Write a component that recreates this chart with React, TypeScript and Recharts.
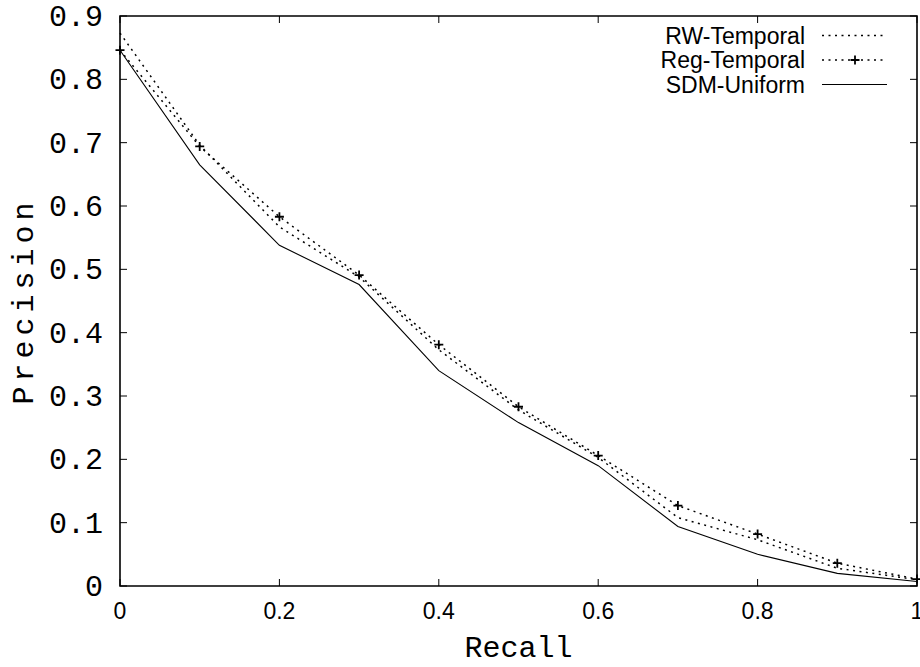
import { LineChart, Line, XAxis, YAxis, ReferenceArea, Legend } from "recharts";

const RECALL = [0, 0.1, 0.2, 0.3, 0.4, 0.5, 0.6, 0.7, 0.8, 0.9, 1.0];
const RW_TEMPORAL = [0.873, 0.696, 0.567, 0.488, 0.373, 0.278, 0.203, 0.108, 0.073, 0.028, 0.01];
const REG_TEMPORAL = [0.846, 0.694, 0.583, 0.491, 0.381, 0.283, 0.206, 0.127, 0.082, 0.036, 0.011];
const SDM_UNIFORM = [0.846, 0.665, 0.538, 0.476, 0.34, 0.258, 0.19, 0.094, 0.05, 0.02, 0.007];

const X_TICKS = [0, 0.2, 0.4, 0.6, 0.8, 1];
const Y_TICKS = [0, 0.1, 0.2, 0.3, 0.4, 0.5, 0.6, 0.7, 0.8, 0.9];

const data = RECALL.map((r, i) => ({
  recall: r,
  rw: RW_TEMPORAL[i],
  reg: REG_TEMPORAL[i],
  sdm: SDM_UNIFORM[i],
}));

// plot box (gnuplot style frame, ticks point inward on all four sides)
const W = 920;
const H = 667;
const PLOT = { left: 120, top: 16, right: 917, bottom: 586 };
const TICK_LEN = 7;
const MONO = "'Liberation Mono', 'DejaVu Sans Mono', monospace";
const SANS = "'Liberation Sans', Arial, sans-serif";
const DOTS = "2 4.5";

const SERIES: Record<string, { dash?: string; plus?: boolean }> = {
  "RW-Temporal": { dash: DOTS },
  "Reg-Temporal": { dash: DOTS, plus: true },
  "SDM-Uniform": {},
};

const plusPath = (cx: number, cy: number, r = 4.5) =>
  `M${cx - r},${cy}H${cx + r}M${cx},${cy - r}V${cy + r}`;

const XTick = ({ x, payload }: any) => (
  <g>
    <line x1={x} x2={x} y1={PLOT.bottom} y2={PLOT.bottom - TICK_LEN} stroke="#000" strokeWidth={1} />
    <line x1={x} x2={x} y1={PLOT.top} y2={PLOT.top + TICK_LEN} stroke="#000" strokeWidth={1} />
    <text x={x} y={PLOT.bottom + 33} textAnchor="middle" fontFamily={SANS} fontSize={23} fill="#000">
      {payload.value === 0 || payload.value === 1 ? String(payload.value) : payload.value.toFixed(1)}
    </text>
  </g>
);

const YTick = ({ y, payload }: any) => (
  <g>
    <line x1={PLOT.left} x2={PLOT.left + TICK_LEN} y1={y} y2={y} stroke="#000" strokeWidth={1} />
    <line x1={PLOT.right} x2={PLOT.right - TICK_LEN} y1={y} y2={y} stroke="#000" strokeWidth={1} />
    <text x={PLOT.left - 17} y={y + 10} textAnchor="end" fontFamily={MONO} fontSize={30} fill="#000">
      {payload.value === 0 ? "0" : payload.value.toFixed(1)}
    </text>
  </g>
);

const XTitle = () => (
  <text x={(PLOT.left + PLOT.right) / 2} y={657} textAnchor="middle" fontFamily={MONO} fontSize={30} fill="#000">
    Recall
  </text>
);

const YTitle = () => {
  const cy = (PLOT.top + PLOT.bottom) / 2;
  return (
    <text
      x={33}
      y={cy}
      transform={`rotate(-90, 33, ${cy})`}
      textAnchor="middle"
      fontFamily={MONO}
      fontSize={30}
      letterSpacing={5}
      fill="#000"
    >
      Precision
    </text>
  );
};

const GnuLegend = ({ payload }: any) => (
  <svg width={300} height={80} style={{ display: "block" }}>
    {(payload || []).map((p: any, i: number) => {
      const s = SERIES[p.value] || {};
      const cy = 12.5 + i * 24.5;
      return (
        <g key={p.value}>
          <text x={205} y={cy + 8} textAnchor="end" fontFamily={SANS} fontSize={23} fill="#000">
            {p.value}
          </text>
          <line x1={222} x2={287} y1={cy} y2={cy} stroke="#000" strokeWidth={s.dash ? 1.5 : 1.1} strokeDasharray={s.dash} />
          {s.plus && <path d={plusPath(255, cy)} stroke="#000" strokeWidth={1.8} />}
        </g>
      );
    })}
  </svg>
);

const PlusDot = (props: any) => {
  const { cx, cy, index } = props;
  if (cx == null || cy == null) return <g key={index} />;
  return <path key={index} d={plusPath(cx, cy)} stroke="#000" strokeWidth={1.8} fill="none" />;
};

export default function App() {
  return (
    <div style={{ position: "absolute", left: 0, top: 0, width: W, height: H, background: "#fff" }}>
      <LineChart
        width={W}
        height={H}
        data={data}
        margin={{ top: PLOT.top, right: W - PLOT.right, bottom: H - PLOT.bottom - 1, left: PLOT.left - 1 }}
      >
        <XAxis
          dataKey="recall"
          type="number"
          domain={[0, 1]}
          ticks={X_TICKS}
          tick={<XTick />}
          tickLine={false}
          axisLine={false}
          height={1}
          interval={0}
          label={<XTitle />}
        />
        <YAxis
          type="number"
          domain={[0, 0.9]}
          ticks={Y_TICKS}
          tick={<YTick />}
          tickLine={false}
          axisLine={false}
          width={1}
          interval={0}
          label={<YTitle />}
        />
        <ReferenceArea x1={0} x2={1} y1={0} y2={0.9} fill="none" stroke="#000" strokeWidth={1.6} ifOverflow="visible" />
        <Legend
          layout="vertical"
          align="center"
          verticalAlign="middle"
          content={<GnuLegend />}
          wrapperStyle={{ position: "absolute", left: 600, top: 23, width: 300, height: 80 }}
        />
        <Line
          name="RW-Temporal"
          dataKey="rw"
          type="linear"
          stroke="#000"
          strokeWidth={1.5}
          strokeDasharray={DOTS}
          dot={false}
          isAnimationActive={false}
        />
        <Line
          name="Reg-Temporal"
          dataKey="reg"
          type="linear"
          stroke="#000"
          strokeWidth={1.5}
          strokeDasharray={DOTS}
          dot={PlusDot}
          isAnimationActive={false}
        />
        <Line
          name="SDM-Uniform"
          dataKey="sdm"
          type="linear"
          stroke="#000"
          strokeWidth={1.1}
          dot={false}
          isAnimationActive={false}
        />
      </LineChart>
    </div>
  );
}
